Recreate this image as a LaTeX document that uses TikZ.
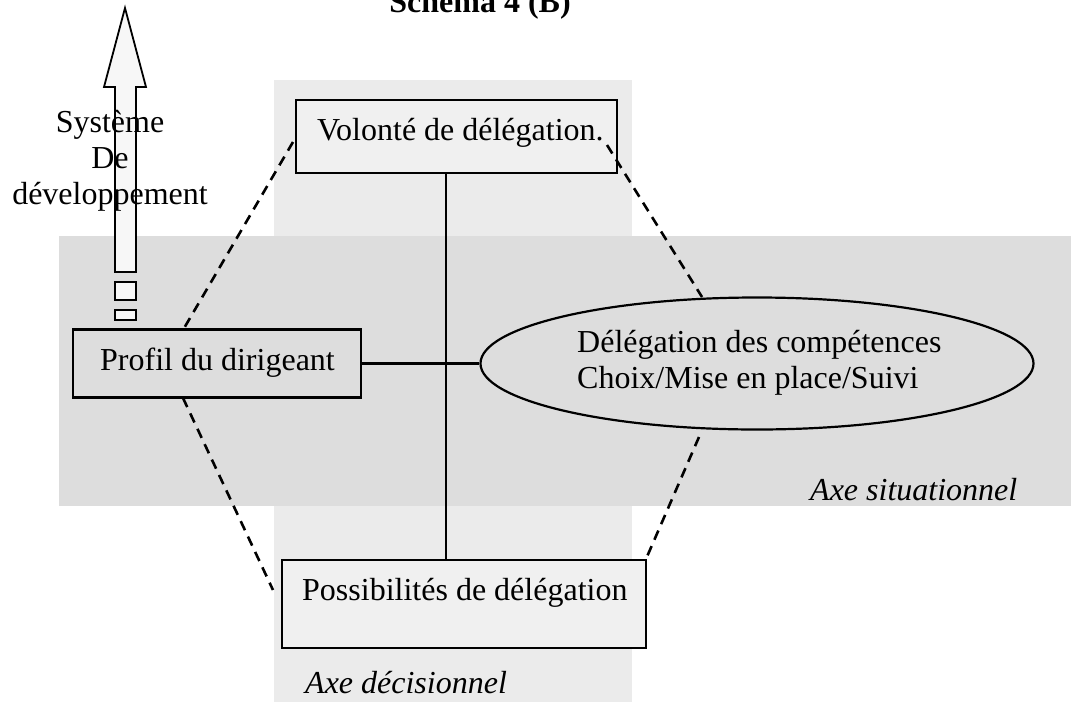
\documentclass[tikz,border=0pt]{standalone}
\usepackage{fontspec}
\setmainfont{Liberation Serif}
\usetikzlibrary{shapes.geometric}
\definecolor{vband}{HTML}{EBEBEB}
\definecolor{hband}{HTML}{DDDDDD}
\definecolor{boxfill}{HTML}{F0F0F0}
\definecolor{arrowfill}{HTML}{F7F7F7}
\tikzset{
  bx/.style={draw, line width=2.2pt, rectangle, inner sep=0pt},
  txt/.style={inner sep=0pt, font=\fontsize{32}{36}\selectfont},
  itxt/.style={txt, font=\fontsize{32}{36}\selectfont\itshape},
  dashline/.style={line width=2.6pt, dash pattern=on 10pt off 7pt},
  solidline/.style={line width=2.2pt},
}
\begin{document}
\begin{tikzpicture}[x=1pt,y=-1pt]
\useasboundingbox (0,0) rectangle (1071,702);
% bands
\fill[vband] (274,80) rectangle (632,702);
\fill[hband] (59,236) rectangle (1071,506);
% development arrow
\draw[line width=1.8pt, fill=arrowfill, line join=miter]
  (115,272) -- (115,87) -- (104,87) -- (125,8) -- (146,87) -- (136,87) -- (136,272) -- cycle;
\draw[line width=1.8pt, fill=arrowfill] (115,282) rectangle (136,300);
\draw[line width=1.8pt, fill=arrowfill] (115,310) rectangle (136,320);
% boxes
\node[bx, fill=boxfill, minimum width=321pt, minimum height=73pt] (vol) at (456.5,136.5) {};
\node[bx, fill=boxfill, minimum width=364pt, minimum height=88pt] (poss) at (464,604) {};
\node[bx, fill=hband, minimum width=288pt, minimum height=68pt] (prof) at (217,363.5) {};
\node[draw, line width=2.2pt, ellipse, inner sep=0pt, fill=hband, minimum width=553pt, minimum height=132pt] (ell) at (757,363.5) {};
% solid connectors
\coordinate (vx) at (446,0);
\draw[solidline] (vx |- vol.south) -- (vx |- poss.north);
\draw[solidline] (prof.east) -- (ell.west);
% dashed connectors
\coordinate (d1a) at (293,142);
\coordinate (d1b) at (183,330);
\coordinate (d2a) at (183,398);
\coordinate (d2b) at (273,590);
\coordinate (d3a) at (607,145);
\coordinate (d3b) at (702,297);
\coordinate (d4a) at (699,437);
\coordinate (d4b) at (646,559);
\draw[dashline] (d1a) -- (d1b);
\draw[dashline] (d2a) -- (d2b);
\draw[dashline] (d3a) -- (d3b);
\draw[dashline] (d4a) -- (d4b);
% texts
\node[txt, font=\fontsize{32}{36}\selectfont\bfseries, anchor=base] (title) at (480,12) {Schéma 4 (B)};
\node[txt, anchor=base] (sys1) at (110,132) {Système};
\node[txt, anchor=base] (sys2) at (110,168) {De};
\node[txt, anchor=base] (sys3) at (110,204) {développement};
\node[txt, anchor=base west] (voltxt) at (317,140) {Volonté de délégation.};
\node[txt, anchor=base west] (proftxt) at (100,370) {Profil du dirigeant};
\node[txt, anchor=base west] (ell1) at (577,352) {Délégation des compétences};
\node[txt, anchor=base west] (ell2) at (577,388) {Choix/Mise en place/Suivi};
\node[txt, anchor=base west] (posstxt) at (302,600) {Possibilités de délégation};
\node[itxt, anchor=base west] (axs) at (810,500) {Axe situationnel};
\node[itxt, anchor=base west] (axd) at (305,693) {Axe décisionnel};
\end{tikzpicture}
\end{document}
